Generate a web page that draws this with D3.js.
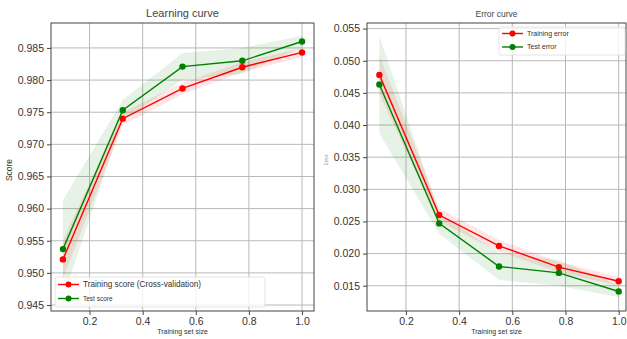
<!DOCTYPE html>
<html>
<head>
<meta charset="utf-8">
<script src="https://cdn.jsdelivr.net/npm/d3@7"></script>
<style>
  body { margin: 0; background: #fff; }
  svg { font-family: "Liberation Sans", Arial, sans-serif; }
  .grid line { stroke: #b8b8b8; stroke-width: 1; }
  .tick text { fill: #333; }
</style>
</head>
<body>
<svg id="chart" width="627" height="339"></svg>
<script>
// training set fractions
var sizes = [0.1, 0.325, 0.55, 0.775, 1.0];
var xTicks = [0.2, 0.4, 0.6, 0.8, 1.0];

// learning curve (scores)
var trainScore = [0.9521, 0.9740, 0.9787, 0.9820, 0.9843];
var trainScoreStd = [0.0030, 0.0010, 0.0009, 0.0008, 0.0007];
var testScore = [0.9537, 0.9753, 0.9821, 0.9830, 0.9860];
var testScoreStd = [0.0076, 0.0016, 0.0021, 0.0020, 0.0009];
var scoreTicks = [0.945, 0.950, 0.955, 0.960, 0.965, 0.970, 0.975, 0.980, 0.985];

// error curve
var trainError = [0.0478, 0.0260, 0.0212, 0.0179, 0.0157];
var trainErrorStd = [0.0030, 0.0010, 0.0009, 0.0008, 0.0007];
var testError = [0.0463, 0.0247, 0.0180, 0.0170, 0.0141];
var testErrorStd = [0.0076, 0.0016, 0.0021, 0.0020, 0.0009];
var errorTicks = [0.015, 0.020, 0.025, 0.030, 0.035, 0.040, 0.045, 0.050, 0.055];

var red = "#ff0000", green = "#008000";
var svg = d3.select("#chart");

var drawPanel = function(p) {
  var x = d3.scaleLinear().domain(p.xDomain).range([p.left, p.right]);
  var y = d3.scaleLinear().domain(p.yDomain).range([p.bottom, p.top]);
  var g = svg.append("g");

  // grid
  var grid = g.append("g").attr("class", "grid");
  grid.selectAll("line.v").data(xTicks).enter().append("line")
    .attr("x1", function(d) { return x(d); }).attr("x2", function(d) { return x(d); })
    .attr("y1", p.top).attr("y2", p.bottom);
  grid.selectAll("line.h").data(p.yTicks).enter().append("line")
    .attr("y1", function(d) { return y(d); }).attr("y2", function(d) { return y(d); })
    .attr("x1", p.left).attr("x2", p.right);

  var clipId = "clip" + p.id;
  svg.append("clipPath").attr("id", clipId).append("rect")
    .attr("x", p.left).attr("y", p.top)
    .attr("width", p.right - p.left).attr("height", p.bottom - p.top);
  var plot = g.append("g").attr("clip-path", "url(#" + clipId + ")");

  var area = function(vals, std) {
    return d3.area()
      .x(function(d, i) { return x(sizes[i]); })
      .y0(function(d, i) { return y(vals[i] - std[i]); })
      .y1(function(d, i) { return y(vals[i] + std[i]); })(vals);
  };
  var line = d3.line()
    .x(function(d, i) { return x(sizes[i]); })
    .y(function(d) { return y(d); });

  p.series.forEach(function(s) {
    plot.append("path").attr("d", area(s.values, s.std))
      .attr("fill", s.color).attr("fill-opacity", 0.1);
  });
  p.series.forEach(function(s) {
    plot.append("path").attr("d", line(s.values))
      .attr("fill", "none").attr("stroke", s.color).attr("stroke-width", 1.4);
    plot.selectAll(null).data(s.values).enter().append("circle")
      .attr("cx", function(d, i) { return x(sizes[i]); })
      .attr("cy", function(d) { return y(d); })
      .attr("r", 3.2).attr("fill", s.color);
  });

  // axes
  var xAxis = g.append("g").attr("transform", "translate(0," + p.bottom + ")")
    .call(d3.axisBottom(x).tickValues(xTicks).tickFormat(d3.format(".1f")).tickSize(4).tickPadding(3));
  var yAxis = g.append("g").attr("transform", "translate(" + p.left + ",0)")
    .call(d3.axisLeft(y).tickValues(p.yTicks).tickFormat(d3.format(".3f")).tickSize(4).tickPadding(3));
  [xAxis, yAxis].forEach(function(a) {
    a.select(".domain").remove();
    a.selectAll(".tick line").attr("stroke", "#444");
    a.selectAll("text").attr("font-size", p.tickFont).attr("font-family", "Liberation Sans, Arial, sans-serif");
  });

  g.append("rect").attr("x", p.left).attr("y", p.top)
    .attr("width", p.right - p.left).attr("height", p.bottom - p.top)
    .attr("fill", "none").attr("stroke", "#444").attr("stroke-width", 1);

  g.append("text").attr("x", (p.left + p.right) / 2).attr("y", p.top - 6)
    .attr("text-anchor", "middle").attr("font-size", p.titleFont).attr("fill", "#444")
    .text(p.title);
  g.append("text").attr("x", (p.left + p.right) / 2).attr("y", 334)
    .attr("text-anchor", "middle").attr("font-size", 7).attr("fill", "#333")
    .text("Training set size");
  g.append("text")
    .attr("transform", "translate(" + p.yLabelX + "," + p.yLabelY + ") rotate(-90)")
    .attr("text-anchor", "middle").attr("font-size", p.yLabelFont).attr("fill", p.yLabelColor)
    .text(p.yLabel);

  // legend
  var L = p.legend;
  var lg = g.append("g");
  lg.append("rect").attr("x", L.x).attr("y", L.y).attr("width", L.w).attr("height", L.h)
    .attr("rx", 2).attr("fill", "#fff").attr("fill-opacity", 0.8)
    .attr("stroke", "#ddd").attr("stroke-width", 0.8);
  p.series.forEach(function(s, i) {
    var ly = L.y + L.first + i * L.step;
    lg.append("line").attr("x1", L.x + 3).attr("x2", L.x + 24)
      .attr("y1", ly).attr("y2", ly).attr("stroke", s.color).attr("stroke-width", 1.4);
    lg.append("circle").attr("cx", L.x + 13.5).attr("cy", ly).attr("r", 3).attr("fill", s.color);
    lg.append("text").attr("x", L.x + 28).attr("y", ly).attr("dy", "0.35em")
      .attr("font-size", L.fonts[i]).attr("fill", "#333").text(s.label);
  });
};

drawPanel({
  id: "a", title: "Learning curve", titleFont: 11, tickFont: 10.5,
  left: 51, right: 314, top: 23, bottom: 311,
  xDomain: [0.055, 1.045], yDomain: [0.94407, 0.98888], yTicks: scoreTicks,
  yLabel: "Score", yLabelX: 12, yLabelY: 170, yLabelFont: 8.5, yLabelColor: "#333",
  series: [
    { label: "Training score (Cross-validation)", color: red, values: trainScore, std: trainScoreStd },
    { label: "Test score", color: green, values: testScore, std: testScoreStd }
  ],
  legend: { x: 55, y: 277, w: 210, h: 30, first: 7.5, step: 14, fonts: [8.2, 6.5] }
});

drawPanel({
  id: "b", title: "Error curve", titleFont: 8.5, tickFont: 10.5,
  left: 367, right: 626, top: 23, bottom: 311,
  xDomain: [0.0535, 1.0275], yDomain: [0.01107, 0.05587], yTicks: errorTicks,
  yLabel: "Error", yLabelX: 328, yLabelY: 160, yLabelFont: 5, yLabelColor: "#999",
  series: [
    { label: "Training error", color: red, values: trainError, std: trainErrorStd },
    { label: "Test error", color: green, values: testError, std: testErrorStd }
  ],
  legend: { x: 499, y: 27, w: 126, h: 28, first: 6.5, step: 13.5, fonts: [7, 7] }
});
</script>
</body>
</html>
